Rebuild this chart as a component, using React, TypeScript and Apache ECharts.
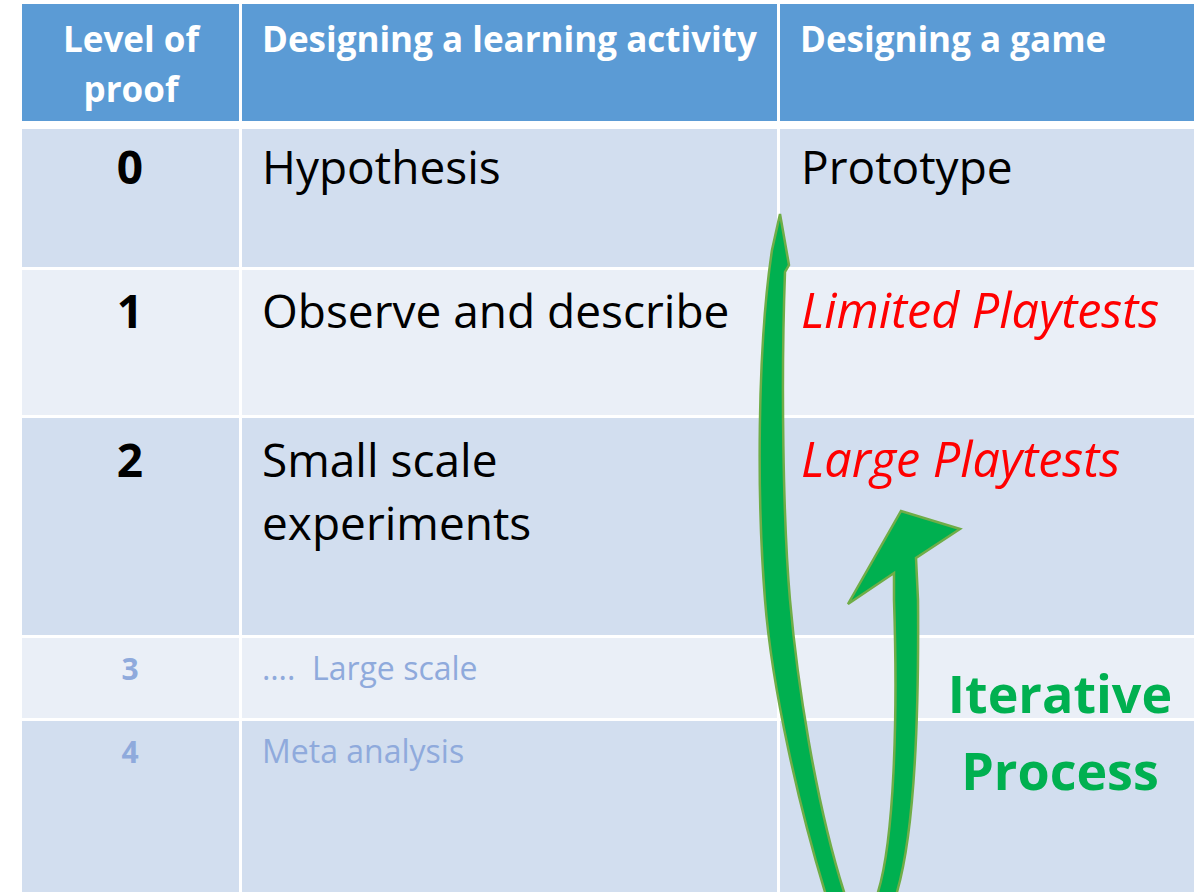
import React, { useEffect, useRef } from "react";
import * as echarts from "echarts";

// ---- content ----
const headers = ["Level of\nproof", "Designing a learning activity", "Designing a game"];
const levels = ["0", "1", "2", "3", "4"];
const learningSteps = ["Hypothesis", "Observe and describe", "Small scale\nexperiments", "\u2026.  Large scale", "Meta analysis"];
const gameSteps = ["Prototype", "Limited Playtests", "Large Playtests", "", ""];
const gameItalic = [false, true, true, false, false];
const faded = [false, false, false, true, true];
const processLabel = "Iterative\nProcess";

// ---- layout ----
const COLS: [number, number][] = [[22, 239], [242, 777], [780, 1194]];
const HEADER_Y: [number, number] = [4, 121];
const ROWS: [number, number][] = [[129, 267], [270, 415], [418, 635], [638, 718], [721, 892]];
const ROW_BASE = [184, 328, 477, 680, 763];
const ROW_FILL = ["#D2DEEF", "#EAEFF7", "#D2DEEF", "#EAEFF7", "#D2DEEF"];
const FONT = '"Open Sans", "Liberation Sans", sans-serif';
const K = 0.385; // baseline -> middle offset factor

const ARROW_D =
  "M 780 214 L 789 265 L 785 272 C 781 380 783 520 790 600 C 797 680 815 800 844 892 " +
  "C 852 925 870 925 878 892 C 894 840 898 720 894 600 L 894 573 L 848 604 L 901 511 " +
  "L 960 529 L 916 558 L 918 600 C 919 720 915 830 897 892 C 885 960 835 960 825 892 " +
  "C 800 810 772 690 765 600 C 757 500 757 350 772 250 Z";

function txt(text: string, x: number, baseline: number, size: number, opts: any = {}) {
  const lines = text.split("\n").length;
  const lh = opts.lineHeight || size * 1.2;
  const midFirst = baseline - K * size;
  const y = midFirst + ((lines - 1) * lh) / 2;
  return {
    type: "text",
    z: 10,
    style: {
      text,
      x,
      y,
      fontSize: size,
      fontFamily: FONT,
      fontWeight: opts.bold ? "bold" : "normal",
      fontStyle: opts.italic ? "italic" : "normal",
      fill: opts.color || "#000",
      align: opts.align || "left",
      verticalAlign: "middle",
      lineHeight: lh,
    },
  };
}

export default function App() {
  const ref = useRef<HTMLDivElement>(null);
  useEffect(() => {
    if (!ref.current) return;
    echarts.graphic.registerShape("iterArrow", echarts.graphic.extendPath(ARROW_D, {}) as any);
    const chart = echarts.init(ref.current, undefined, { renderer: "svg" });
    const els: any[] = [];
    els.push({ type: "rect", shape: { x: 0, y: 0, width: 1194, height: 892 }, style: { fill: "#fff" } });
    COLS.forEach(([x0, x1]) => {
      els.push({ type: "rect", shape: { x: x0, y: HEADER_Y[0], width: x1 - x0, height: HEADER_Y[1] - HEADER_Y[0] }, style: { fill: "#5B9BD5" } });
      ROWS.forEach(([y0, y1], i) => {
        els.push({ type: "rect", shape: { x: x0, y: y0, width: x1 - x0, height: y1 - y0 }, style: { fill: ROW_FILL[i] } });
      });
    });
    // headers
    els.push(txt(headers[0], 131, 52, 35, { bold: true, color: "#fff", align: "center", lineHeight: 50 }));
    els.push(txt(headers[1], 262, 52, 35, { bold: true, color: "#fff" }));
    els.push(txt(headers[2], 800, 52, 35, { bold: true, color: "#fff" }));
    // rows
    levels.forEach((lv, i) => {
      const f = faded[i];
      const size = f ? 32 : 46;
      const col = f ? "#8FAADC" : "#000";
      els.push(txt(lv, 130, ROW_BASE[i], f ? 30 : 46, { bold: true, color: col, align: "center" }));
      els.push(txt(learningSteps[i], 262, ROW_BASE[i], size, { color: col, lineHeight: 63 }));
      if (gameSteps[i]) {
        const it = gameItalic[i];
        els.push(txt(gameSteps[i], 801, ROW_BASE[i], it ? 48.5 : size, { italic: it, color: it ? "#FF0000" : col }));
      }
    });
    // arrow
    els.push({
      type: "iterArrow",
      z: 20,
      x: 0,
      y: 0,
      style: { fill: "#00B050", stroke: "#70AD47", lineWidth: 2.5 },
    });
    els.push(txt(processLabel, 1060, 713, 52, { bold: true, color: "#00B050", align: "center", lineHeight: 77 }));

    chart.setOption({ animation: false, graphic: { elements: els } });
    return () => chart.dispose();
  }, []);
  return <div ref={ref} style={{ position: "absolute", left: 0, top: 0, width: 1194, height: 892 }} />;
}
